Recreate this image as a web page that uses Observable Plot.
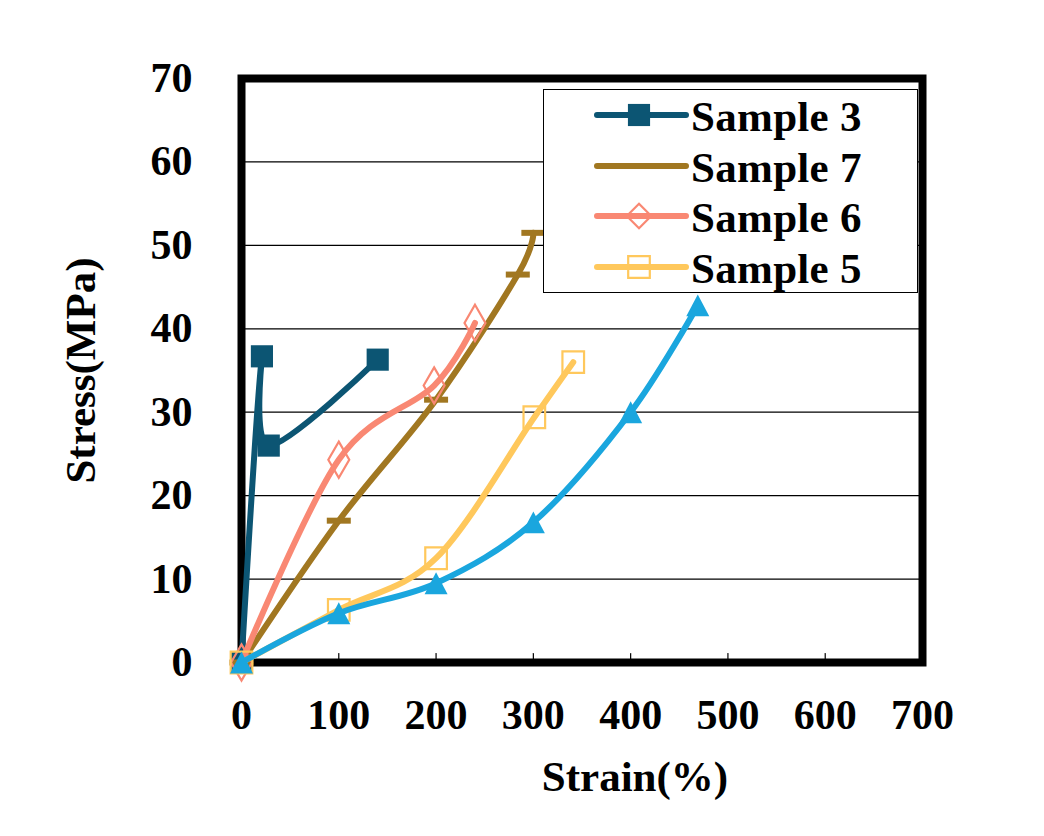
<!DOCTYPE html>
<html>
<head>
<meta charset="utf-8">
<script src="https://cdn.jsdelivr.net/npm/d3@7"></script>
<script src="https://cdn.jsdelivr.net/npm/@observablehq/plot@0.6"></script>
<style>
  html, body { margin: 0; padding: 0; background: white; }
  #wrap { position: relative; width: 1044px; height: 836px; overflow: hidden; }
  #legend { position: absolute; left: 543px; top: 89px; width: 375px; height: 204px; box-sizing: border-box;
            border: 1.5px solid black; background: white; }
  .row { position: absolute; left: 0; height: 50px; line-height: 50px; width: 100%; }
  .row svg { position: absolute; left: 50px; }
  .row span { position: absolute; left: 147px; top: 4px; font-family: "Liberation Serif", "Times New Roman", serif;
              font-weight: bold; font-size: 43px; color: black; white-space: nowrap; letter-spacing: 0.3px; }
</style>
</head>
<body>
<div id="wrap"></div>
<script>
// ---- data ----
const seriesNames = ["Sample 3", "Sample 7", "Sample 6", "Sample 5", "Sample 4"];
const legendNames = ["Sample 3", "Sample 7", "Sample 6", "Sample 5"];

const strain3 = [0, 21, 28, 140];
const stress3 = [0, 36.7, 26.0, 36.3];

const strain7 = [0, 100, 200, 284, 300];
const stress7 = [0, 17.0, 31.5, 46.5, 51.5];

const strain6 = [0, 100, 198, 240];
const stress6 = [0, 24.3, 33.2, 40.7];

const strain5 = [0, 100, 200, 301, 341];
const stress5 = [0, 6.3, 12.5, 29.4, 36.0];

const strain4 = [0, 100, 200, 300, 400, 469];
const stress4 = [0, 5.9, 9.5, 16.8, 30.0, 42.8];

const xTicks = [0, 100, 200, 300, 400, 500, 600, 700];
const yTicks = [0, 10, 20, 30, 40, 50, 60, 70];
const xTitle = "Strain(%)";
const yTitle = "Stress(MPa)";

// ---- build table ----
const strains = [strain3, strain7, strain6, strain5, strain4];
const stresses = [stress3, stress7, stress6, stress5, stress4];
const rows = seriesNames.flatMap((name, i) =>
  strains[i].map((s, j) => ({series: name, strain: s, stress: stresses[i][j]})));

// ---- styles ----
const dashSymbol = {
  draw(ctx, size) { const r = Math.sqrt(size / Math.PI); ctx.rect(-r, -r * 0.25, 2 * r, r * 0.5); }
};
const triSymbol = {
  draw(ctx, size) { const r = Math.sqrt(size / Math.PI); const h = r * 0.95;
    ctx.moveTo(0, -h); ctx.lineTo(r, h); ctx.lineTo(-r, h); ctx.closePath(); }
};
const styles = {
  "Sample 3": {color: "#0c5573", symbol: "square", r: 12.5, filled: true},
  "Sample 7": {color: "#a17721", symbol: dashSymbol, r: 12, filled: true},
  "Sample 6": {color: "#f98873", symbol: "diamond", r: 11, filled: false},
  "Sample 5": {color: "#ffc85c", symbol: "square", r: 12.2, filled: false},
  "Sample 4": {color: "#1aa6de", symbol: triSymbol, r: 11.5, filled: true}
};
const fontFamily = "'Liberation Serif', 'Times New Roman', serif";

const tickShape = { draw(ctx, l) { ctx.moveTo(0, 0); ctx.lineTo(0, -l); } };

const seriesMarks = seriesNames.flatMap(name => {
  const st = styles[name];
  const data = rows.filter(d => d.series === name);
  return [
    Plot.line(data, {x: "strain", y: "stress", stroke: st.color, strokeWidth: 6, curve: "cardinal",
                     strokeLinecap: "round", strokeLinejoin: "round"}),
    Plot.dot(data, {x: "strain", y: "stress", symbol: () => st.symbol, r: st.r,
                    fill: st.filled ? st.color : "none",
                    stroke: st.filled ? "none" : st.color, strokeWidth: st.filled ? 0 : 2.2})
  ];
});

const chart = Plot.plot({
  width: 1044, height: 836,
  marginLeft: 241, marginRight: 122, marginTop: 78, marginBottom: 174,
  x: {domain: [0, 700]},
  y: {domain: [0, 70]},
  symbol: {type: "identity"},
  style: {fontFamily, fontWeight: "bold", background: "white", overflow: "visible"},
  marks: [
    Plot.ruleY(yTicks.slice(1, -1), {y: d => d, stroke: "black", strokeWidth: 1.2}),
    Plot.vector(xTicks.slice(1, -1), {x: d => d, y: () => 0, length: 9, anchor: "start",
                                       shape: tickShape, stroke: "black", strokeWidth: 1.2}),
    Plot.frame({stroke: "black", strokeWidth: 8}),
    ...seriesMarks,
    Plot.axisY(yTicks, {tickSize: 0, tickPadding: 49, fontSize: 42, fontWeight: "bold", label: null}),
    Plot.axisX(xTicks, {tickSize: 0, tickPadding: 37, fontSize: 42, fontWeight: "bold", label: null}),
    Plot.text([xTitle], {text: d => d, frameAnchor: "bottom", dx: 53, dy: 115, lineAnchor: "middle",
                         textAnchor: "middle", fontSize: 43, fontWeight: "bold"}),
    Plot.text([yTitle], {text: d => d, frameAnchor: "left", rotate: -90, dx: -160, textAnchor: "middle",
                         lineAnchor: "middle", fontSize: 43, fontWeight: "bold"})
  ]
});

const wrap = document.getElementById("wrap");
wrap.appendChild(chart);

// ---- legend ----
const legend = document.createElement("div");
legend.id = "legend";
wrap.appendChild(legend);
const typeMap = {square: d3.symbolSquare, diamond: d3.symbolDiamond2};
legendNames.forEach((name, i) => {
  const st = styles[name];
  const center = 25 + i * 50.6;
  const row = document.createElement("div");
  row.className = "row";
  row.style.top = (center - 27) + "px";
  legend.appendChild(row);
  const svg = d3.select(row).append("svg").attr("width", 96).attr("height", 30)
    .style("top", "12px");
  svg.append("line").attr("x1", 3).attr("x2", 92).attr("y1", 15).attr("y2", 15)
    .attr("stroke", st.color).attr("stroke-width", 6).attr("stroke-linecap", "round");
  const t = typeof st.symbol === "string" ? typeMap[st.symbol] : st.symbol;
  if (name !== "Sample 7") {
    svg.append("path").attr("transform", "translate(45,15)")
      .attr("d", d3.symbol().type(t).size(Math.PI * st.r * st.r)())
      .attr("fill", st.filled ? st.color : "none")
      .attr("stroke", st.filled ? "none" : st.color).attr("stroke-width", 2.2);
  }
  const span = document.createElement("span");
  span.textContent = name;
  row.appendChild(span);
});
</script>
</body>
</html>
